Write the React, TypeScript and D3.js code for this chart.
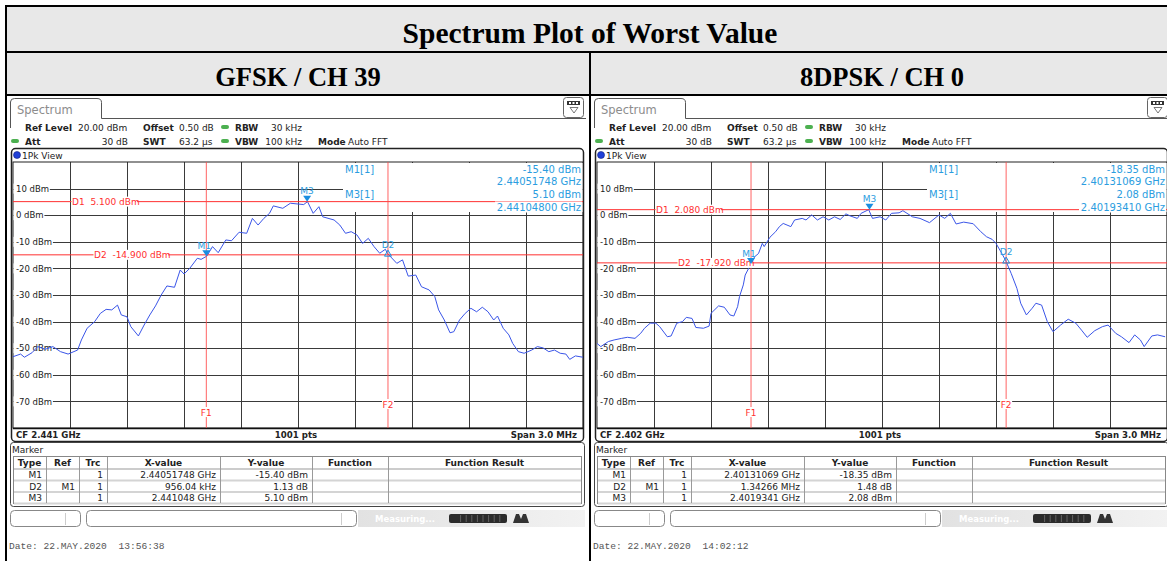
import React from 'react';
import * as d3 from 'd3';

const W = 1167, H = 561;

// grid labels on the level axis
const levelTicks = [10, 0, -10, -20, -30, -40, -50, -60, -70];
const tableHeads = ['Type', 'Ref', 'Trc', 'X-value', 'Y-value', 'Function', 'Function Result'];
const colEdges = [13, 46, 79, 107, 220, 312, 388, 581];

// GFSK / CH 39 trace (offset from CF in MHz, level in dBm)
const gfskOffsets = [-1.50, -1.46, -1.44, -1.40, -1.37, -1.33, -1.29, -1.25, -1.21, -1.16, -1.14, -1.11, -1.07, -1.04, -1.01, -0.98, -0.95, -0.93, -0.90, -0.88, -0.84, -0.81, -0.78, -0.75, -0.72, -0.69, -0.65, -0.62, -0.60, -0.57, -0.53, -0.51, -0.48, -0.45, -0.42, -0.38, -0.35, -0.31, -0.27, -0.24, -0.21, -0.18, -0.15, -0.13, -0.08, -0.04, 0.00, 0.03, 0.05, 0.08, 0.11, 0.13, 0.19, 0.22, 0.25, 0.28, 0.31, 0.34, 0.37, 0.40, 0.43, 0.46, 0.47, 0.52, 0.55, 0.58, 0.62, 0.65, 0.69, 0.72, 0.74, 0.77, 0.80, 0.82, 0.85, 0.88, 0.91, 0.94, 0.97, 1.00, 1.03, 1.05, 1.08, 1.11, 1.13, 1.16, 1.19, 1.23, 1.26, 1.29, 1.32, 1.35, 1.38, 1.41, 1.43, 1.46, 1.50];
const gfskLevels = [-53.2, -52.2, -53.4, -51.7, -49.4, -50.4, -49.4, -51.3, -52.2, -50.7, -46.9, -42.5, -40.0, -36.9, -35.4, -35.6, -33.8, -37.5, -38.2, -41.9, -45.4, -41.3, -37.5, -34.1, -30.0, -26.6, -27.1, -20.6, -22.1, -20.0, -16.2, -16.6, -15.4, -11.8, -14.1, -9.3, -9.6, -6.4, -6.8, -1.2, -3.7, -1.2, 0.7, 3.5, 2.6, 4.5, 4.2, 4.0, 5.1, 0.7, 3.2, -0.6, -1.8, -3.7, -6.8, -6.2, -7.4, -10.6, -8.7, -11.8, -14.3, -12.8, -14.3, -18.1, -16.8, -22.9, -22.5, -26.9, -28.1, -30.6, -35.6, -39.4, -44.2, -43.8, -39.4, -36.9, -35.0, -36.3, -34.6, -36.3, -39.4, -37.9, -42.5, -45.0, -48.2, -51.3, -51.9, -50.7, -49.4, -49.9, -51.3, -50.7, -51.9, -52.2, -54.2, -52.9, -53.4];

// 8DPSK / CH 0 trace
const dpskOffsets = [-1.50, -1.48, -1.44, -1.41, -1.37, -1.34, -1.30, -1.27, -1.25, -1.22, -1.19, -1.17, -1.13, -1.11, -1.08, -1.05, -1.03, -1.00, -0.98, -0.94, -0.91, -0.90, -0.86, -0.83, -0.80, -0.78, -0.76, -0.75, -0.73, -0.72, -0.69, -0.67, -0.65, -0.63, -0.62, -0.59, -0.56, -0.54, -0.52, -0.48, -0.46, -0.42, -0.40, -0.37, -0.34, -0.31, -0.28, -0.25, -0.22, -0.19, -0.17, -0.13, -0.11, -0.07, -0.05, -0.01, 0.02, 0.05, 0.09, 0.11, 0.16, 0.20, 0.25, 0.30, 0.33, 0.36, 0.39, 0.43, 0.48, 0.52, 0.55, 0.58, 0.60, 0.63, 0.65, 0.68, 0.71, 0.73, 0.76, 0.79, 0.81, 0.84, 0.87, 0.90, 0.94, 0.98, 1.02, 1.05, 1.08, 1.12, 1.16, 1.19, 1.23, 1.26, 1.30, 1.33, 1.36, 1.38, 1.42, 1.45, 1.49];
const dpskLevels = [-48.2, -49.4, -47.5, -46.9, -46.3, -45.9, -46.3, -44.4, -42.5, -40.6, -40.6, -41.9, -45.7, -45.4, -40.6, -40.0, -38.4, -38.8, -42.2, -42.5, -41.7, -36.9, -34.1, -34.6, -37.5, -37.9, -34.4, -30.6, -26.2, -22.5, -18.35, -15.6, -14.4, -10.6, -11.8, -8.3, -6.2, -4.3, -3.1, -4.3, -1.8, -1.2, -1.8, 0.1, -1.8, -0.6, -1.8, -0.6, -1.6, 0.5, -0.2, -1.2, 0.7, 2.08, -1.2, -0.6, -1.8, 0.7, 0.9, 1.7, -0.6, -1.2, -2.8, 0.1, -1.2, 0.7, -3.3, -2.6, -3.2, -6.2, -8.1, -9.1, -10.6, -14.3, -16.9, -21.9, -27.5, -33.1, -37.5, -35.0, -33.1, -33.8, -40.0, -43.8, -41.3, -39.1, -40.6, -43.2, -45.9, -43.4, -41.9, -41.3, -44.4, -45.7, -47.9, -45.0, -46.9, -49.4, -45.4, -45.0, -45.7];

// markers: [offset MHz, level dBm]
const gfskM1 = [-0.48252, -15.40];
const gfskD2 = [0.47352, -14.27];
const gfskM3 = [0.048, 5.10];
const dpskM1 = [-0.68931, -18.35];
const dpskD2 = [0.65335, -16.87];
const dpskM3 = [-0.0659, 2.08];

const gfskInfo = ['-15.40 dBm', '2.44051748 GHz', '5.10 dBm', '2.44104800 GHz'];
const dpskInfo = ['-18.35 dBm', '2.40131069 GHz', '2.08 dBm', '2.40193410 GHz'];

const gfskRows = [
  ['M1', '', '1', '2.44051748 GHz', '-15.40 dBm', '', ''],
  ['D2', 'M1', '1', '956.04 kHz', '1.13 dB', '', ''],
  ['M3', '', '1', '2.441048 GHz', '5.10 dBm', '', ''],
];
const dpskRows = [
  ['M1', '', '1', '2.40131069 GHz', '-18.35 dBm', '', ''],
  ['D2', 'M1', '1', '1.34266 MHz', '1.48 dB', '', ''],
  ['M3', '', '1', '2.4019341 GHz', '2.08 dBm', '', ''],
];

const SANS = 'DejaVu Sans, Verdana, sans-serif';
const TRACE = '#3a55e8';
const RED = '#ff3030';
const MBLUE = '#2b9de0';
const NB = '\u00a0';

function textW(s: string, size: number) {
  // rough DejaVu advance widths
  let w = 0;
  for (const c of s) {
    if (c === ' ' || c === '.' || c === NB) w += 0.318;
    else if (c === '-') w += 0.361;
    else if (c === 'm') w += 0.974;
    else if (/[A-Z]/.test(c)) w += 0.72;
    else w += 0.636;
  }
  return w * size;
}

function Panel({ dx, id, cf, offsets, levels, d1, d2, m1, dm, m3, info, rows, date }: any) {
  const x = d3.scaleLinear().domain([-1.5, 1.5]).range([13, 583]);
  const y = d3.scaleLinear().domain([-80, 20]).range([428, 162]);
  const path = d3.line<number>().x((_, i) => x(offsets[i])).y(d => y(d))(levels) || '';
  const vGrid = d3.range(1, 10).map(i => -1.5 + i * 0.3);
  const hGrid = d3.range(10, -80, -10);
  const f1 = x(m1[0]), f2 = x(dm[0]);
  const d1y = y(d1), d2y = y(d2);
  const d1Label = `D1${NB}${NB}${d1.toFixed(3)} dBm`;
  const d2Label = `D2${NB}${NB}${d2.toFixed(3)} dBm`;
  const rowY = [469, 480.5, 492, 503.5];

  return (
    <g transform={`translate(${dx},0)`} clipPath={`url(#${id})`}>
      {/* tab + header */}
      <path d="M10.5,128 V102 Q10.5,98.5 14.5,98.5 H97 Q101.5,98.5 101.5,102.5 V118.5 H586" fill="none" stroke="#555" strokeWidth={1} />
      <text x={17} y={114} fontFamily={SANS} fontSize={11.5} fill="#8c8c8c">Spectrum</text>
      <rect x={563.5} y={97.5} width={20} height={20} rx={3} fill="#fff" stroke="#666" />
      <rect x={567} y={101} width={13} height={4} fill="#333" />
      <rect x={569} y={102} width={2} height={2} fill="#fff" />
      <rect x={572.5} y={102} width={2} height={2} fill="#fff" />
      <rect x={576} y={102} width={2} height={2} fill="#fff" />
      <path d="M570,107.5 H578 L574,113 Z" fill="none" stroke="#555" strokeWidth={0.8} />

      <g fontFamily={SANS} fontSize={9} fill="#222">
        <text x={25} y={130.5} fontWeight="bold">Ref Level</text>
        <text x={78} y={130.5}>20.00 dBm</text>
        <text x={143} y={130.5} fontWeight="bold">Offset</text>
        <text x={179} y={130.5}>0.50 dB</text>
        <text x={235} y={130.5} fontWeight="bold">RBW</text>
        <text x={302} y={130.5} textAnchor="end">30 kHz</text>
        <text x={25} y={144.5} fontWeight="bold">Att</text>
        <text x={128} y={144.5} textAnchor="end">30 dB</text>
        <text x={143} y={144.5} fontWeight="bold">SWT</text>
        <text x={179} y={144.5}>63.2 µs</text>
        <text x={235} y={144.5} fontWeight="bold">VBW</text>
        <text x={302} y={144.5} textAnchor="end">100 kHz</text>
        <text x={318} y={144.5} fontWeight="bold">Mode</text>
        <text x={348} y={144.5}>Auto FFT</text>
      </g>
      <rect x={221} y={125} width={8} height={4} rx={2} fill="#4cb050" />
      <rect x={11} y={139} width={8} height={4} rx={2} fill="#4cb050" />
      <rect x={221} y={139} width={8} height={4} rx={2} fill="#4cb050" />

      {/* plot frame */}
      <rect x={11.5} y={148.5} width={572} height={293} rx={4} fill="#fff" stroke="#222" strokeWidth={1.5} />
      <circle cx={17} cy={155} r={3.5} fill="#2040d8" stroke="#102080" strokeWidth={0.6} />
      <text x={22} y={158.5} fontFamily={SANS} fontSize={9} fill="#222">1Pk View</text>

      {/* grid */}
      <g stroke="#3a3a3a" strokeWidth={1}>
        {vGrid.map(v => <line key={'v' + v} x1={Math.round(x(v)) + 0.5} x2={Math.round(x(v)) + 0.5} y1={162} y2={428} />)}
        {hGrid.map(v => <line key={'h' + v} x1={13} x2={583} y1={Math.round(y(v)) + 0.5} y2={Math.round(y(v)) + 0.5} />)}
      </g>
      <rect x={13} y={162} width={570} height={266} fill="none" stroke="#222" strokeWidth={1} />
      <line x1={13} x2={583} y1={428.5} y2={428.5} stroke="#111" strokeWidth={1.5} />

      {/* marker info box */}
      <rect x={343} y={163} width={239.5} height={49} fill="#fff" />

      {levelTicks.map(v => {
        const s = `${v} dBm`;
        return (
          <g key={'t' + v}>
            <rect x={13.5} y={y(v) - 5} width={textW(s, 8.5) + 3} height={10} fill="#fff" />
            <text x={16} y={y(v) + 3.2} fontFamily={SANS} fontSize={8.5} fill="#222">{s}</text>
          </g>
        );
      })}

      <path d={path} fill="none" stroke={TRACE} strokeWidth={1} strokeLinejoin="round" />

      {/* display lines */}
      <line x1={13} x2={583} y1={d1y} y2={d1y} stroke={RED} strokeWidth={1} />
      <line x1={13} x2={583} y1={d2y} y2={d2y} stroke={RED} strokeWidth={1} />
      <line x1={f1} x2={f1} y1={162} y2={428} stroke="#ff4a4a" strokeWidth={1} opacity={0.85} />
      <line x1={f2} x2={f2} y1={162} y2={428} stroke="#ff4a4a" strokeWidth={1} opacity={0.85} />

      <g fontFamily={SANS} fontSize={9} fill={RED}>
        <rect x={71.5} y={d1y - 5} width={textW(d1Label, 9) - 2} height={10} fill="#fff" />
        <text x={72} y={d1y + 3.3}>{d1Label}</text>
        <rect x={93.5} y={d2y - 5} width={textW(d2Label, 9) - 2} height={10} fill="#fff" />
        <text x={94} y={d2y + 3.3}>{d2Label}</text>
        <rect x={f1 - 6} y={407} width={12} height={10} fill="#fff" />
        <text x={f1} y={415.5} textAnchor="middle">F1</text>
        <rect x={f2 - 6} y={399} width={12} height={10} fill="#fff" />
        <text x={f2} y={407.5} textAnchor="middle">F2</text>
      </g>

      {/* markers */}
      <g fontFamily={SANS} fontSize={9} fill={MBLUE}>
        <path d={`M${x(m1[0]) - 4},${y(m1[1]) - 6} H${x(m1[0]) + 4} L${x(m1[0])},${y(m1[1])} Z`} fill="#1a8ee0" />
        <text x={x(m1[0]) - 2} y={y(m1[1]) - 7} textAnchor="middle">M1</text>
        <path d={`M${x(m3[0]) - 4},${y(m3[1]) - 6} H${x(m3[0]) + 4} L${x(m3[0])},${y(m3[1])} Z`} fill="#1a8ee0" />
        <text x={x(m3[0])} y={y(m3[1]) - 8} textAnchor="middle">M3</text>
        <path d={`M${x(dm[0]) - 3.5},${y(dm[1]) + 3} H${x(dm[0]) + 3.5} L${x(dm[0])},${y(dm[1]) - 3} Z`} fill="none" stroke="#1a8ee0" strokeWidth={1} />
        <text x={x(dm[0])} y={y(dm[1]) - 5} textAnchor="middle">D2</text>
      </g>

      <g fontFamily={SANS} fontSize={10} fill={MBLUE}>
        <text x={345} y={173}>M1[1]</text>
        <text x={581} y={173} textAnchor="end">{info[0]}</text>
        <text x={581} y={185} textAnchor="end">{info[1]}</text>
        <text x={345} y={198}>M3[1]</text>
        <text x={581} y={198} textAnchor="end">{info[2]}</text>
        <rect x={495} y={201.5} width={87} height={11} fill="#fff" />
        <text x={581} y={210.5} textAnchor="end">{info[3]}</text>
      </g>

      {/* footer of diagram */}
      <g fontFamily={SANS} fontSize={8.6} fontWeight="bold" fill="#222">
        <text x={16} y={437.5}>{cf}</text>
        <text x={296} y={437.5} textAnchor="middle">1001 pts</text>
        <text x={577} y={437.5} textAnchor="end">Span 3.0 MHz</text>
      </g>

      {/* marker table */}
      <rect x={10.5} y={442.5} width={574} height={64} rx={3} fill="#fff" stroke="#444" strokeWidth={1} />
      <text x={12} y={452.5} fontFamily={SANS} fontSize={9} fill="#222">Marker</text>
      <rect x={13.5} y={456.5} width={568} height={47} fill="#fff" stroke="#888" />
      {rowY.slice(1).map(v => <line key={'r' + v} x1={14} x2={581} y1={v} y2={v} stroke="#d4d4d4" strokeWidth={2} />)}
      <line x1={14} x2={581} y1={469} y2={469} stroke="#999" strokeWidth={1} />
      {colEdges.slice(1, -1).map(c => <line key={'c' + c} x1={c + 0.5} x2={c + 0.5} y1={457} y2={503} stroke="#9a9a9a" strokeWidth={1} />)}
      <g fontFamily={SANS} fontSize={9} fill="#222">
        {tableHeads.map((h, i) => (
          <text key={h} x={(colEdges[i] + colEdges[i + 1]) / 2} y={466} textAnchor="middle" fontWeight="bold">{h}</text>
        ))}
        {rows.map((r: string[], ri: number) => r.map((c, ci) => c ? (
          <text key={ri + '-' + ci} x={colEdges[ci + 1] - 4} y={rowY[ri] + 9} textAnchor="end">{c}</text>
        ) : null))}
      </g>

      {/* status bar */}
      <rect x={10.5} y={510.5} width={70} height={16} rx={4} fill="#fff" stroke="#888" />
      <line x1={65.5} x2={65.5} y1={513} y2={525} stroke="#ccc" />
      <rect x={86.5} y={510.5} width={270} height={16} rx={4} fill="#fff" stroke="#888" />
      <line x1={341.5} x2={341.5} y1={513} y2={525} stroke="#ccc" />
      <rect x={358} y={510} width={227} height={17} fill={`url(#grad-${id})`} />
      <text x={375} y={521.5} fontFamily={SANS} fontSize={8.5} fontWeight="bold" fill="#fff">Measuring...</text>
      <rect x={449} y={514} width={58} height={9} rx={2} fill="#2c2c2c" />
      {d3.range(1, 9).map(i => <line key={'s' + i} x1={455 + i * 5.6} x2={455 + i * 5.6} y1={515} y2={522} stroke="#888" strokeWidth={0.6} />)}
      <path d="M513,523 L516,514 H519 L521,519 L523,514 H526 L529,523 Z" fill="#333" />

      <text x={9} y={549} fontFamily="Liberation Mono, monospace" fontSize={9.6} fill="#555">{date.replace(/ /g, NB)}</text>
    </g>
  );
}

export default function App() {
  return (
    <svg width={W} height={H} style={{ position: 'absolute', left: 0, top: 0, background: '#fff' }}>
      <defs>
        <clipPath id="clipL"><rect x={8} y={97} width={580} height={H} /></clipPath>
        <clipPath id="clipR"><rect x={8} y={97} width={580} height={H} /></clipPath>
        {['clipL', 'clipR'].map(k => (
          <linearGradient key={k} id={`grad-${k}`} x1="0" x2="1" y1="0" y2="0">
            <stop offset="0" stopColor="#e2e2e2" />
            <stop offset="1" stopColor="#f2f2f2" />
          </linearGradient>
        ))}
      </defs>
      <rect x={6} y={6} width={W} height={46} fill="#e8e8e8" />
      <rect x={6} y={52} width={W} height={43} fill="#e8e8e8" />
      <g stroke="#000" strokeWidth={2}>
        <line x1={5} x2={W} y1={6} y2={6} />
        <line x1={5} x2={W} y1={52} y2={52} />
        <line x1={5} x2={W} y1={95} y2={95} />
        <line x1={6} x2={6} y1={5} y2={H} />
        <line x1={590} x2={590} y1={52} y2={H} />
      </g>
      <g fontFamily="Liberation Serif, Times New Roman, serif" fontWeight="bold" fill="#000" textAnchor="middle">
        <text x={590} y={42.5} fontSize={29.5}>Spectrum Plot of Worst Value</text>
        <text x={298} y={86} fontSize={26.5}>GFSK / CH 39</text>
        <text x={882} y={86} fontSize={26.5}>8DPSK / CH 0</text>
      </g>
      <Panel dx={0} id="clipL" cf="CF 2.441 GHz" offsets={gfskOffsets} levels={gfskLevels}
        d1={5.1} d2={-14.9} m1={gfskM1} dm={gfskD2} m3={gfskM3} info={gfskInfo} rows={gfskRows}
        date="Date: 22.MAY.2020  13:56:38" />
      <Panel dx={584} id="clipR" cf="CF 2.402 GHz" offsets={dpskOffsets} levels={dpskLevels}
        d1={2.08} d2={-17.92} m1={dpskM1} dm={dpskD2} m3={dpskM3} info={dpskInfo} rows={dpskRows}
        date="Date: 22.MAY.2020  14:02:12" />
    </svg>
  );
}
